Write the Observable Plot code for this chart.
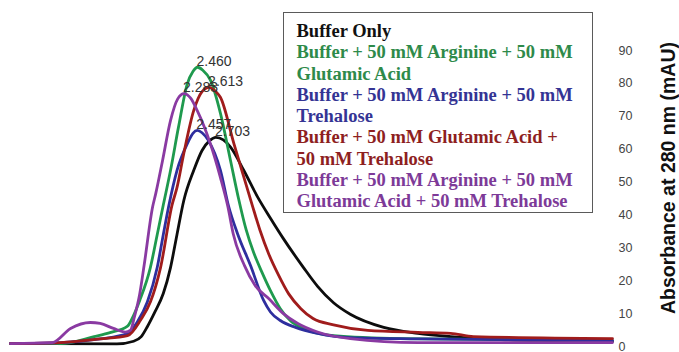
<!DOCTYPE html>
<html>
<head>
<meta charset="utf-8">
<script src="https://cdn.jsdelivr.net/npm/d3@7"></script>
<script src="https://cdn.jsdelivr.net/npm/@observablehq/plot@0.6"></script>
<style>
  html, body { margin: 0; padding: 0; background: #fff; }
  #wrap { position: relative; width: 679px; height: 352px; overflow: hidden; background: #fff; }
  #legend { position: absolute; left: 283px; top: 12px; width: 310px; height: 201px; box-sizing: border-box;
    border: 1.5px solid #5a5a5a; background: #fff; padding: 8px 0 0 12.5px;
    font-weight: bold; font-size: 18.5px; line-height: 21.3px; white-space: nowrap; }
  #ytitle { position: absolute; left: 668px; top: 178px; transform: translate(-50%, -50%) rotate(-90deg);
    font-family: "Liberation Sans", Arial, sans-serif; font-weight: bold; font-size: 19.5px; color: #111; white-space: nowrap; }
</style>
</head>
<body>
<div id="wrap"></div>
<script>
// Retention time (min) vs absorbance (mAU)
const bufferOnly = [[0,0.9],[1.40,0.8],[1.62,1.6],[1.72,3],[1.80,6],[1.90,10.5],[2.01,16.1],[2.105,24],[2.19,34],[2.28,44.4],[2.41,53.5],[2.52,59.6],[2.62,62.6],[2.70,63.6],[2.80,62.8],[2.895,60.6],[3.07,53.5],[3.25,45.5],[3.42,39],[3.59,32.8],[3.855,24],[4.04,18.3],[4.25,13.3],[4.47,9.8],[4.91,5.8],[5.36,4.0],[5.79,3.0],[6.45,2.1],[7.24,1.8],[7.92,1.5]];
const argGlu = [[0,0.9],[0.66,0.9],[1.10,3.0],[1.32,4.3],[1.54,6.2],[1.62,9.5],[1.70,14],[1.84,24],[1.93,34],[2.01,43],[2.105,53.5],[2.21,66.7],[2.325,79.8],[2.40,83.6],[2.46,84.9],[2.53,84],[2.632,80.9],[2.763,70.8],[2.895,56.5],[3.0,45],[3.10,35.5],[3.20,28.5],[3.30,23],[3.42,17],[3.55,11.5],[3.68,7.9],[3.85,5.5],[4.25,3.3],[5.13,2.4],[7.92,1.8]];
const argTre = [[0,0.9],[0.66,1.2],[1.18,2.3],[1.54,3.9],[1.67,7.5],[1.80,13.5],[1.93,24],[2.01,34],[2.08,42.5],[2.19,53.5],[2.325,61.6],[2.40,64.8],[2.457,65.7],[2.52,65],[2.605,62.6],[2.763,53.5],[2.868,42.8],[2.987,34.3],[3.158,24.6],[3.33,14],[3.42,10.5],[3.55,7.9],[3.75,5.8],[4.04,4.0],[4.47,2.7],[5.36,2.3],[7.92,1.8]];
const gluTre = [[0,0.9],[0.66,1.2],[1.18,2.3],[1.54,3.3],[1.71,8],[1.84,13.5],[1.974,24],[2.125,43],[2.19,48.3],[2.28,58.7],[2.41,71.7],[2.52,77.5],[2.613,78.8],[2.70,77.5],[2.763,75.7],[2.94,61.6],[3.07,51.5],[3.18,43],[3.28,35.5],[3.40,28],[3.52,22],[3.66,16],[3.82,11.5],[3.98,8.5],[4.25,6.6],[4.70,4.9],[5.36,4.3],[5.79,4.0],[6.09,3.0],[7.92,2.4]];
const argGluTre = [[0,0.9],[0.55,1.2],[0.79,5.5],[1.05,7.3],[1.18,7.0],[1.355,5.5],[1.51,4.4],[1.58,5],[1.63,9],[1.70,16],[1.76,25],[1.87,42.5],[1.91,46.4],[2.0,56.5],[2.105,68.7],[2.20,75.3],[2.283,76.9],[2.37,75.5],[2.457,71.7],[2.63,61.6],[2.76,51.5],[2.86,42.5],[2.93,34.3],[3.08,24.5],[3.22,18.5],[3.40,14.5],[3.59,10],[3.78,7.0],[4.04,4.4],[4.47,2.4],[5.36,1.2],[7.92,1.2]];

const seriesNames = ["Buffer Only", "Buffer + 50 mM Arginine + 50 mM Glutamic Acid", "Buffer + 50 mM Arginine + 50 mM Trehalose", "Buffer + 50 mM Glutamic Acid + 50 mM Trehalose", "Buffer + 50 mM Arginine + 50 mM Glutamic Acid + 50 mM Trehalose"];
const legendLines = [["Buffer Only"], ["Buffer + 50 mM Arginine + 50 mM", "Glutamic Acid"], ["Buffer + 50 mM Arginine + 50 mM", "Trehalose"], ["Buffer + 50 mM Glutamic Acid +", "50 mM Trehalose"], ["Buffer + 50 mM Arginine + 50 mM", "Glutamic Acid + 50 mM Trehalose"]];
const lineColors = ["#0d0d0d", "#1f9a4e", "#2e2e9e", "#a01c1c", "#8a3aa2"];
const textColors = ["#111111", "#2e8a4a", "#343494", "#8e1f1f", "#7d3a98"];

const peakLabels = ["2.460", "2.613", "2.283", "2.457", "2.703"];
const peakTimes = [2.460, 2.613, 2.283, 2.457, 2.703];
const peakHeights = [84.9, 78.8, 76.9, 65.7, 63.6];

const yTicks = [0, 10, 20, 30, 40, 50, 60, 70, 80, 90];
const yTitle = "Absorbance at 280 nm (mAU)";

const allSeries = [bufferOnly, argGlu, argTre, gluTre, argGluTre];
const rows = allSeries.flatMap((s, i) => s.map(([t, v]) => ({t, v, name: seriesNames[i]})));
const peaks = peakLabels.map((label, i) => ({label, t: peakTimes[i], v: peakHeights[i]}));

const chart = Plot.plot({
  width: 679,
  height: 352,
  marginLeft: 10,
  marginRight: 67,
  marginTop: 50,
  marginBottom: 6,
  style: {fontFamily: "'Liberation Sans', Arial, sans-serif", background: "transparent"},
  x: {domain: [0, 7.92], axis: null},
  y: {domain: [0, 90]},
  color: {domain: seriesNames, range: lineColors},
  marks: [
    Plot.axisY({anchor: "right", ticks: yTicks, tickSize: 0, tickPadding: 6, fontSize: 12.5, fill: "#444", label: null}),
    Plot.line(rows, {x: "t", y: "v", z: "name", stroke: "name", strokeWidth: 2.8, curve: "monotone-x"}),
    Plot.text(peaks, {x: "t", y: "v", text: "label", textAnchor: "start", dx: -1, dy: -6, fontSize: 14, fill: "#333"})
  ]
});

const wrap = document.getElementById("wrap");
wrap.appendChild(chart);

const legend = document.createElement("div");
legend.id = "legend";
legend.style.fontFamily = "'Liberation Serif', 'DejaVu Serif', serif";
legendLines.forEach((lines, i) => {
  lines.forEach(line => {
    const d = document.createElement("div");
    d.textContent = line;
    d.style.color = textColors[i];
    d.style.fontFamily = "'Liberation Serif', 'DejaVu Serif', serif";
    legend.appendChild(d);
  });
});
wrap.appendChild(legend);

const title = document.createElement("div");
title.id = "ytitle";
title.textContent = yTitle;
wrap.appendChild(title);
</script>
</body>
</html>
